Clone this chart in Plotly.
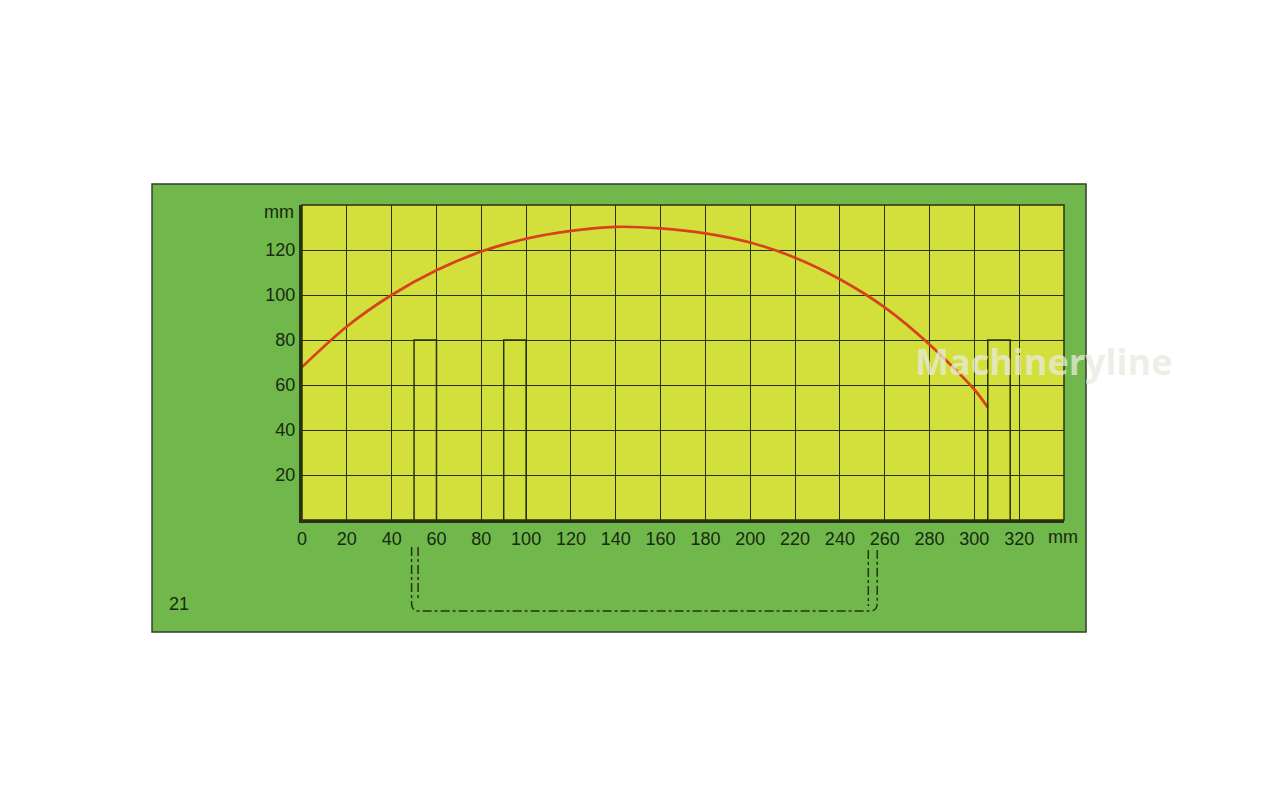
import plotly.graph_objects as go

# ---- data ----
curve_x = [0, 20, 40, 60, 80, 100, 120, 140, 160, 180, 200, 220, 240, 260, 280, 300, 306]
curve_y = [68, 86, 100, 111, 119.3, 125, 128.5, 130.3, 129.6, 127.4, 123.3, 116.6, 107, 94.5, 78, 58, 50]

bar_left = [50, 90, 306]
bar_right = [60, 100, 316]
bar_height = [80, 80, 80]

x_ticks = list(range(0, 321, 20))
y_ticks = list(range(20, 121, 20))
x_range = [0, 340]
y_range = [0, 140]

# ---- styling / layout ----
GREEN = "#71b84c"
YELLOW = "#d3df3b"
DARK = "#172a0e"
GRID = "#27330f"
RED = "#d8411d"
FONT = "Liberation Sans, Arial, sans-serif"

OFF = 8  # page body margin
L, T, W, H = 302, 205, 762, 315  # plot area in screen pixels


def px_x(p):
    return (p - L) / W


def px_y(p):
    return (T + H - p) / H


fig = go.Figure()

# red curve
fig.add_trace(go.Scatter(x=curve_x, y=curve_y, mode="lines",
                         line=dict(color=RED, width=2.7, shape="spline", smoothing=0.8),
                         hoverinfo="skip", showlegend=False))

# outlined bars
for x0, x1, h in zip(bar_left, bar_right, bar_height):
    fig.add_trace(go.Scatter(x=[x0, x0, x1, x1], y=[0, h, h, 0], mode="lines",
                             line=dict(color=GRID, width=1.5),
                             hoverinfo="skip", showlegend=False))

shapes = [
    # green panel
    dict(type="rect", xref="paper", yref="paper", layer="below",
         x0=px_x(152), x1=px_x(1086), y0=px_y(632), y1=px_y(184),
         fillcolor=GREEN, line=dict(color="#33402a", width=1.5)),
    # yellow plot area
    dict(type="rect", xref="paper", yref="paper", layer="below",
         x0=0, x1=1, y0=0, y1=1, fillcolor=YELLOW, line=dict(width=0)),
    # frame
    dict(type="rect", xref="paper", yref="paper", layer="above",
         x0=0, x1=1, y0=0, y1=1, line=dict(color=GRID, width=1.5)),
]


def P(xp, yp):
    return f"{px_x(xp):.5f},{px_y(yp):.5f}"


bracket = ("M " + P(411.6, 547) + " L " + P(411.6, 603) + " Q " + P(411.6, 611) + " " + P(419, 611)
           + " L " + P(870, 611) + " Q " + P(877.2, 611) + " " + P(877.2, 603) + " L " + P(877.2, 550))
shapes.append(dict(type="path", xref="paper", yref="paper", path=bracket,
                   line=dict(color=GRID, width=1.5, dash="dashdot")))
shapes.append(dict(type="path", xref="paper", yref="paper",
                   path="M " + P(418.1, 547) + " L " + P(418.1, 600),
                   line=dict(color=GRID, width=1.5, dash="dashdot")))
shapes.append(dict(type="path", xref="paper", yref="paper",
                   path="M " + P(868.3, 550) + " L " + P(868.3, 606),
                   line=dict(color=GRID, width=1.5, dash="dashdot")))

annotations = [
    dict(text="mm", xref="paper", yref="paper", x=px_x(296), y=px_y(212),
         xanchor="right", yanchor="middle", showarrow=False,
         font=dict(family=FONT, size=18, color=DARK)),
    dict(text="mm", xref="paper", yref="paper", x=px_x(1063), y=px_y(537),
         xanchor="center", yanchor="middle", showarrow=False,
         font=dict(family=FONT, size=18, color=DARK)),
    dict(text="21", xref="paper", yref="paper", x=px_x(167), y=px_y(604),
         xanchor="left", yanchor="middle", showarrow=False,
         font=dict(family=FONT, size=18, color=DARK)),
    dict(text="<b>Machineryline</b>", xref="paper", yref="paper", x=px_x(1044), y=px_y(361),
         xanchor="center", yanchor="middle", showarrow=False,
         font=dict(family="Open Sans, Liberation Sans, sans-serif", size=36,
                   color="rgba(232,234,222,0.75)")),
]

fig.update_layout(
    width=1280, height=810,
    margin=dict(l=L - OFF, r=1280 - (L - OFF) - W, t=T - OFF, b=810 - (T - OFF) - H, pad=0),
    paper_bgcolor="white", plot_bgcolor="rgba(0,0,0,0)",
    shapes=shapes, annotations=annotations, showlegend=False,
    xaxis=dict(range=x_range, tickvals=x_ticks, ticktext=[str(v) for v in x_ticks],
               showgrid=True, gridcolor=GRID, gridwidth=1.4, zeroline=False,
               showline=True, linecolor=GRID, linewidth=3, ticks="",
               tickfont=dict(family=FONT, size=18, color=DARK), fixedrange=True),
    yaxis=dict(range=y_range, tickvals=y_ticks, ticktext=[str(v) for v in y_ticks],
               showgrid=True, gridcolor=GRID, gridwidth=1.4, zeroline=False,
               showline=True, linecolor=GRID, linewidth=3, ticks="",
               tickfont=dict(family=FONT, size=18, color=DARK), fixedrange=True),
)

fig.write_html("out.html")
